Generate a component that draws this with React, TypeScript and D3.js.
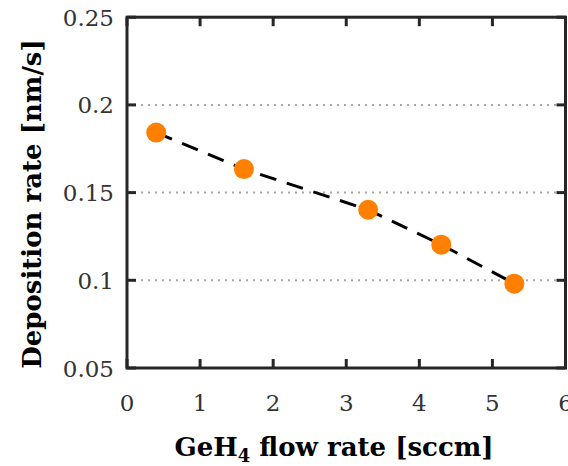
import React from "react";
import * as d3 from "d3";

// GeH4 flow rate (sccm) and the measured deposition rate (nm/s)
const flowRates = [0.4, 1.6, 3.3, 4.3, 5.3];
const depositionRates = [0.1842, 0.1634, 0.1402, 0.1203, 0.0981];

const xTicks = [0, 1, 2, 3, 4, 5, 6];
const yTicks = [0.05, 0.1, 0.15, 0.2, 0.25];
const yGrid = [0.1, 0.15, 0.2];

const W = 568;
const H = 466;
const FONT = "'DejaVu Serif', 'Liberation Serif', serif";
const AXIS = "#262626";

export default function App() {
  const x = d3.scaleLinear().domain([0, 6]).range([127, 565.5]);
  const y = d3.scaleLinear().domain([0.05, 0.25]).range([368, 17.2]);
  const [x0, x1] = x.range();
  const [y0, y1] = y.range();
  const tickLen = 9;

  const pts = flowRates.map((f, i) => [f, depositionRates[i]] as [number, number]);
  const line = d3
    .line<[number, number]>()
    .x((d) => x(d[0]))
    .y((d) => y(d[1]));

  return (
    <svg
      width={W}
      height={H}
      style={{ position: "absolute", left: 0, top: 0, background: "#fff" }}
    >
      <rect width={W} height={H} fill="#fff" />
      {/* dotted horizontal grid */}
      {yGrid.map((v) => (
        <line
          key={"g" + v}
          x1={x0}
          x2={x1}
          y1={y(v)}
          y2={y(v)}
          stroke="#a6a6a6"
          strokeWidth={2}
          strokeDasharray="2 5"
        />
      ))}
      {/* inward ticks on all four sides */}
      {xTicks.map((t) => (
        <g key={"xt" + t}>
          <line x1={x(t)} x2={x(t)} y1={y0} y2={y0 - tickLen} stroke={AXIS} strokeWidth={3} />
          <line x1={x(t)} x2={x(t)} y1={y1} y2={y1 + tickLen} stroke={AXIS} strokeWidth={3} />
        </g>
      ))}
      {yTicks.map((t) => (
        <g key={"yt" + t}>
          <line x1={x0} x2={x0 + tickLen} y1={y(t)} y2={y(t)} stroke={AXIS} strokeWidth={3} />
          <line x1={x1} x2={x1 - tickLen} y1={y(t)} y2={y(t)} stroke={AXIS} strokeWidth={3} />
        </g>
      ))}
      {/* data */}
      <path
        d={line(pts) ?? ""}
        fill="none"
        stroke="#000"
        strokeWidth={3}
        strokeDasharray="17 11"
      />
      {pts.map((d, i) => (
        <circle key={"p" + i} cx={x(d[0])} cy={y(d[1])} r={10} fill="#ff8000" />
      ))}
      {/* box */}
      <rect
        x={x0}
        y={y1}
        width={x1 - x0}
        height={y0 - y1}
        fill="none"
        stroke={AXIS}
        strokeWidth={3}
      />
      {/* tick labels */}
      {xTicks.map((t) => (
        <text
          key={"xl" + t}
          x={x(t)}
          y={411}
          textAnchor="middle"
          fontFamily={FONT}
          fontSize={23}
          fill="#333"
        >
          {d3.format("d")(t)}
        </text>
      ))}
      {yTicks.map((t) => (
        <text
          key={"yl" + t}
          x={114}
          y={y(t) + 8.5}
          textAnchor="end"
          fontFamily={FONT}
          fontSize={23}
          fill="#333"
        >
          {String(t)}
        </text>
      ))}
      {/* axis titles */}
      <text
        x={334}
        y={456}
        textAnchor="middle"
        fontFamily={FONT}
        fontWeight="bold"
        fontSize={26}
        fill="#000"
      >
        GeH
        <tspan fontSize={18} dy={6}>4</tspan>
        <tspan dy={-6}> flow rate [sccm]</tspan>
      </text>
      <text
        transform={`translate(41, 204) rotate(-90)`}
        textAnchor="middle"
        fontFamily={FONT}
        fontWeight="bold"
        fontSize={26}
        fill="#000"
      >
        Deposition rate [nm/s]
      </text>
    </svg>
  );
}
